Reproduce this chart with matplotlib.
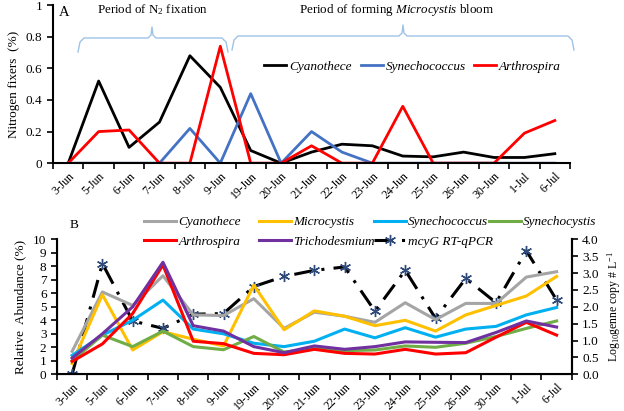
import numpy as np
import matplotlib.pyplot as plt
from matplotlib.lines import Line2D

plt.rcParams['font.family'] = ['Liberation Serif', 'DejaVu Serif']
plt.rcParams['mathtext.fontset'] = 'custom'
plt.rcParams['mathtext.rm'] = 'Liberation Serif'
plt.rcParams['mathtext.it'] = 'Liberation Serif:italic'

dates = ['3-Jun', '5-Jun', '6-Jun', '7-Jun', '8-Jun', '9-Jun', '19-Jun', '20-Jun', '21-Jun',
         '22-Jun', '23-Jun', '24-Jun', '25-Jun', '26-Jun', '30-Jun', '1-Jul', '6-Jul']

# panel A: nitrogen fixers (%)
fix_cyanothece = [0, 0.52, 0.10, 0.26, 0.68, 0.48, 0.08, 0, 0.07, 0.12, 0.11, 0.045, 0.04, 0.07, 0.036, 0.036, 0.06]
fix_synechococcus = [0, 0, 0, 0, 0.22, 0, 0.44, 0, 0.20, 0.07, 0, 0, 0, 0, 0, 0, 0]
fix_arthrospira = [0, 0.20, 0.21, 0, 0, 0.74, 0, 0, 0.11, 0, 0, 0.36, 0, 0, 0, 0.19, 0.27]

# panel B: relative abundance (%)
ab_cyanothece = [1.7, 6.1, 5.1, 7.3, 4.4, 4.35, 5.6, 3.4, 4.6, 4.3, 3.85, 5.3, 4.05, 5.25, 5.25, 7.2, 7.6]
ab_microcystis = [0.8, 5.9, 1.8, 3.15, 2.6, 2.1, 6.6, 3.3, 4.7, 4.3, 3.6, 4.0, 3.2, 4.4, 5.1, 5.8, 7.25]
ab_synechococcus = [1.4, 2.9, 4.0, 5.5, 3.35, 3.0, 2.3, 2.05, 2.45, 3.35, 2.7, 3.45, 2.75, 3.35, 3.55, 4.4, 4.95]
ab_synechocystis = [1.0, 2.9, 2.05, 3.2, 2.05, 1.82, 2.8, 1.65, 1.9, 1.75, 1.8, 2.1, 2.0, 2.3, 2.8, 3.4, 3.95]
ab_arthrospira = [0.95, 2.25, 4.5, 8.1, 2.45, 2.27, 1.55, 1.45, 1.85, 1.55, 1.5, 1.85, 1.5, 1.6, 2.75, 3.85, 2.9]
ab_trichodesmium = [1.2, 3.0, 5.0, 8.3, 3.6, 3.2, 2.05, 1.6, 2.1, 1.85, 2.05, 2.4, 2.37, 2.35, 3.1, 3.95, 3.5]
# mcyG RT-qPCR, log10 gene copies per L (right axis)
mcyg = [0, 3.28, 1.58, 1.36, 1.78, 1.8, 2.6, 2.9, 3.08, 3.18, 1.87, 3.08, 1.66, 2.84, 2.12, 3.66, 2.2]

x = np.arange(len(dates))
W, H = 624.0, 411.0

fig = plt.figure(figsize=(6.24, 4.11), dpi=100)

def style_xaxis(ax):
    ax.set_xlim(-0.5, len(dates) - 0.5)
    ax.set_xticks(x)
    ax.set_xticklabels(dates, rotation=45, ha='right', rotation_mode='anchor', fontsize=8.5)
    ax.set_xticks(np.arange(-0.5, len(dates)), minor=True)
    ax.tick_params(axis='x', which='major', length=0, pad=5)
    ax.tick_params(axis='x', which='minor', length=4, width=1.2)

# ---- panel A
ax1 = fig.add_axes([0.085, 0.603, 0.8285, 0.3844])
h1, = ax1.plot(x, fix_cyanothece, color='black', lw=2, label='Cyanothece')
h2, = ax1.plot(x, fix_synechococcus, color='#4472C4', lw=2, label='Synechococcus')
h3, = ax1.plot(x, fix_arthrospira, color='#FF0000', lw=2, label='Arthrospira')
ax1.set_ylim(0, 1)
ax1.set_yticks([0, 0.2, 0.4, 0.6, 0.8, 1])
ax1.set_yticklabels(['0', '0.2', '0.4', '0.6', '0.8', '1'], fontsize=9.5)
ax1.tick_params(axis='y', length=4, width=1.2)
style_xaxis(ax1)
for s in ['top', 'right']:
    ax1.spines[s].set_visible(False)
for s in ['left', 'bottom']:
    ax1.spines[s].set_linewidth(1.5)
ax1.set_ylabel('Nitrogen fixers  (%)', fontsize=9.5, labelpad=4)
for h, xp in zip([h1, h2, h3], [264, 361, 474]):
    fig.legend(handles=[h], loc='center left', bbox_to_anchor=(xp / W, 1 - 67 / H),
               frameon=False, prop={'style': 'italic', 'size': 9.5}, handlelength=1.7,
               handletextpad=0.2, borderaxespad=0, borderpad=0)
ax1.text(0.012, 0.995, 'A', transform=ax1.transAxes, fontsize=10.5, va='top')

# curly braces over the two periods (figure pixel coords -> fraction)
def brace(x0, x1, xc, ybase, ytip, ypeak):
    xs = [x0, x0 + 2, x0 + 6, xc - 4, xc - 1, xc, xc + 1, xc + 4, x1 - 6, x1 - 2, x1]
    ys = [ybase, ytip + 4, ytip, ytip, ytip - 3, ypeak, ytip - 3, ytip, ytip, ytip + 4, ybase]
    fig.add_artist(Line2D([v / W for v in xs], [1 - v / H for v in ys],
                          color='#9DC3E6', lw=1.0))
brace(78, 228, 152, 52, 38, 27)
brace(232, 574, 403, 50, 36, 25)
fig.text(153 / W, 1 - 10 / H, 'Period of N$_2$ fixation', ha='center', va='center', fontsize=9.4)
fig.text(397 / W, 1 - 10 / H, 'Period of forming $\\mathit{Microcystis}$ bloom', ha='center',
         va='center', fontsize=9.4)

# ---- panel B
ax2 = fig.add_axes([0.0913, 0.0893, 0.825, 0.3285])
h_cy, = ax2.plot(x, ab_cyanothece, color='#A5A5A5', lw=2.2, label='Cyanothece')
h_mi, = ax2.plot(x, ab_microcystis, color='#FFC000', lw=2.2, label='Microcystis')
h_sc, = ax2.plot(x, ab_synechococcus, color='#00B0F0', lw=2.2, label='Synechococcus')
h_sy, = ax2.plot(x, ab_synechocystis, color='#70AD47', lw=2.2, label='Synechocystis')
h_ar, = ax2.plot(x, ab_arthrospira, color='#FF0000', lw=2.2, label='Arthrospira')
h_tr, = ax2.plot(x, ab_trichodesmium, color='#7030A0', lw=2.2, label='Trichodesmium')
ax2.set_ylim(0, 10)
ax2.set_yticks(range(0, 11))
ax2.tick_params(axis='y', labelsize=9.5, length=4, width=1.2)
style_xaxis(ax2)
ax2.spines['top'].set_visible(False)
for s in ['left', 'bottom', 'right']:
    ax2.spines[s].set_linewidth(1.5)
ax2.set_ylabel('Relative  Abundance (%)', fontsize=9.5, labelpad=5)
ax2.text(0.025, 1.06, 'B', transform=ax2.transAxes, fontsize=9.5, va='bottom')

ax3 = ax2.twinx()
h_mc, = ax3.plot(x, mcyg, color='black', lw=2.2, linestyle=(0, (6, 3, 1, 3)),
                 marker=(6, 2, 0), markersize=8, markeredgecolor='#2F4B7C',
                 markeredgewidth=1.0, label='mcyG RT-qPCR', zorder=5)
ax3.set_ylim(0, 4)
ax3.set_yticks(np.arange(0, 4.01, 0.5))
ax3.set_yticklabels(['%.1f' % v for v in np.arange(0, 4.01, 0.5)], fontsize=9.5)
ax3.tick_params(axis='y', length=4, width=1.2)
ax3.spines['top'].set_visible(False)
ax3.spines['right'].set_linewidth(1.5)
ax3.set_ylabel('Log$_{10}$genne copy # L$^{-1}$', fontsize=8.5, labelpad=5)
ax2.set_zorder(ax3.get_zorder() + 1)
ax2.patch.set_visible(False)

# legend of panel B: four equally spaced columns
cols = [[h_cy, h_ar], [h_mi, h_tr], [h_sc, h_mc], [h_sy]]
for hs, xp in zip(cols, [144, 259, 374, 489]):
    fig.legend(handles=hs, loc='upper left', bbox_to_anchor=(xp / W, 1 - 216 / H),
               frameon=False, prop={'style': 'italic', 'size': 9.5}, handlelength=2.4,
               handletextpad=0.2, labelspacing=0.55, borderaxespad=0, borderpad=0)

fig.savefig('out.png', dpi=100)
